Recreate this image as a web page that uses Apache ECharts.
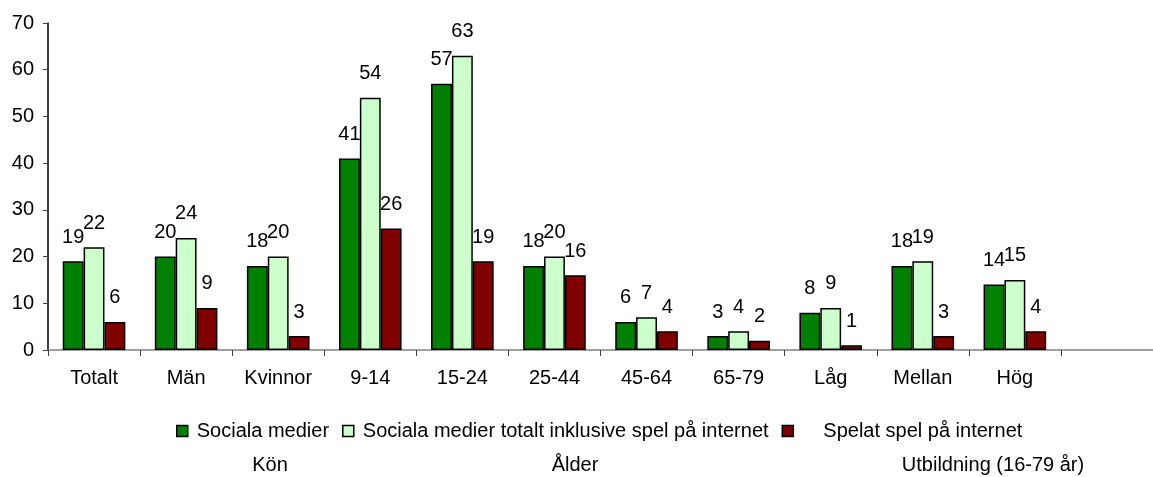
<!DOCTYPE html>
<html>
<head>
<meta charset="utf-8">
<script src="https://cdn.jsdelivr.net/npm/echarts@6/dist/echarts.min.js"></script>
<style>
  html, body { margin: 0; padding: 0; background: #fff; }
  #chart { width: 1153px; height: 477px; }
</style>
</head>
<body>
<div id="chart"></div>
<script>
// categories (last slot is empty in the original)
const categories = ['Totalt', 'Män', 'Kvinnor', '9-14', '15-24', '25-44', '45-64', '65-79', 'Låg', 'Mellan', 'Hög', '']
const socialaMedier = [19, 20, 18, 41, 57, 18, 6, 3, 8, 18, 14]
const socialaInklSpel = [22, 24, 20, 54, 63, 20, 7, 4, 9, 19, 15]
const speladeSpel = [6, 9, 3, 26, 19, 16, 4, 2, 1, 3, 4]
const groupLabels = ['Kön', 'Ålder', 'Utbildning (16-79 år)']

const seriesNames = [
  'Sociala medier',
  'Sociala medier totalt inklusive spel på internet',
  'Spelat spel på internet'
]

const font = 'Arial, "Liberation Sans", sans-serif'
const fs = 20

const chart = echarts.init(document.getElementById('chart'))

function barSeries(name, data, color) {
  return {
    name: name,
    type: 'bar',
    data: data,
    barGap: '0%',
    barCategoryGap: '32%',
    itemStyle: { color: color, borderColor: '#000', borderWidth: 1.5 },
    label: {
      show: true,
      position: 'top',
      distance: 14,
      color: '#000',
      fontFamily: font,
      fontSize: fs
    }
  }
}

const option = {
  animation: false,
  textStyle: { fontFamily: font },
  grid: { left: 48, top: 23, bottom: 127, width: 1111 },
  legend: {
    left: 176,
    top: 421,
    padding: 0,
    itemWidth: 11,
    itemHeight: 11,
    itemGap: 13,
    icon: 'rect',
    data: seriesNames,
    textStyle: {
      fontFamily: font,
      fontSize: fs,
      color: '#000',
      rich: {
        a: { padding: [0, 0, 0, 4], fontSize: fs, fontFamily: font, color: '#000' },
        pad: { padding: [0, 0, 0, 25], fontSize: fs, fontFamily: font, color: '#000' }
      }
    },
    formatter: function (name) {
      return name === seriesNames[2] ? '{pad|' + name + '}' : '{a|' + name + '}'
    },
    itemStyle: { borderColor: '#000', borderWidth: 1.5 }
  },
  xAxis: {
    type: 'category',
    data: categories,
    axisLine: { lineStyle: { color: '#808080', width: 1.5 } },
    axisTick: { show: true, length: 6, lineStyle: { color: '#404040' } },
    axisLabel: { color: '#000', fontSize: fs, fontFamily: font, margin: 18 }
  },
  yAxis: {
    type: 'value',
    min: 0,
    max: 70,
    interval: 10,
    splitLine: { show: false },
    axisLine: { show: true, lineStyle: { color: '#000', width: 1.5 } },
    axisTick: { show: true, inside: false, length: 5, lineStyle: { color: '#404040' } },
    axisLabel: { color: '#000', fontSize: fs, fontFamily: font, margin: 14 }
  },
  graphic: [
    { type: 'text', x: 270, y: 465, style: { text: groupLabels[0], font: fs + 'px ' + font, fill: '#000', align: 'center', verticalAlign: 'middle' } },
    { type: 'text', x: 575, y: 465, style: { text: groupLabels[1], font: fs + 'px ' + font, fill: '#000', align: 'center', verticalAlign: 'middle' } },
    { type: 'text', x: 993, y: 465, style: { text: groupLabels[2], font: fs + 'px ' + font, fill: '#000', align: 'center', verticalAlign: 'middle' } }
  ],
  series: [
    barSeries(seriesNames[0], socialaMedier, '#008000'),
    barSeries(seriesNames[1], socialaInklSpel, '#CCFFCC'),
    barSeries(seriesNames[2], speladeSpel, '#800000')
  ]
}

chart.setOption(option)
</script>
</body>
</html>
